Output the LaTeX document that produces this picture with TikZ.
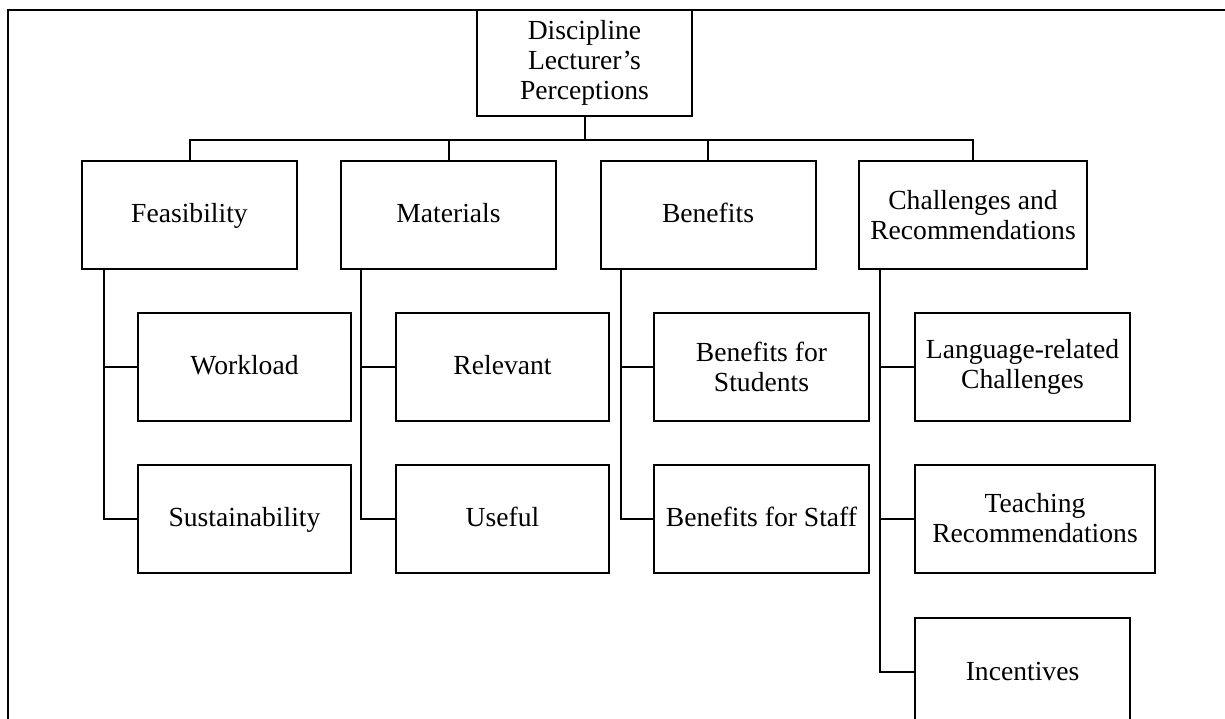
\documentclass[tikz,border=0pt]{standalone}
\usepackage{fontspec}
\setmainfont{Liberation Serif}
\usetikzlibrary{positioning, calc}

\begin{document}
\begin{tikzpicture}[
        x=1pt, y=-1pt,
        theme/.style={draw, line width=2pt, minimum width=215pt, minimum height=108pt,
            align=center, inner sep=4pt, font=\fontsize{27.6}{30}\selectfont},
        single/.style={text height=21pt, text depth=5pt},
        subtheme/.style={theme, anchor=west},
        link/.style={line width=2pt}
    ]
        \useasboundingbox (0,0) rectangle (1225,719);
        \clip (0,0) rectangle (1225,719);

        % Page frame
        \draw[line width=2.4pt] (8,719) -- (8,10) -- (1225,10);

        % Root
        \node[theme, minimum height=106pt] (root) at (584.5, 63) {Discipline\\Lecturer's\\Perceptions};

        % Main themes
        \node[theme, single] (feas) at (189.5, 215) {Feasibility};
        \node[theme, single] (mat) at (448.5, 215) {Materials};
        \node[theme, single] (ben) at (708, 215) {Benefits};
        \node[theme, minimum width=228pt] (chal) at (973, 215) {Challenges and\\Recommendations};

        % Sub-themes
        \node[subtheme, single, minimum width=213pt] (work) at (137, 366.5) {Workload};
        \node[subtheme, single, minimum width=213pt] (sust) at (137, 518.5) {Sustainability};
        \node[subtheme, single, minimum width=213pt] (rel) at (395, 366.5) {Relevant};
        \node[subtheme, single, minimum width=213pt] (use) at (395, 518.5) {Useful};
        \node[subtheme] (stud) at (653, 366.5) {Benefits for\\Students};
        \node[subtheme, single] (staff) at (653, 518.5) {Benefits for Staff};
        \node[subtheme] (lang) at (914, 366.5) {Language-related\\Challenges};
        \node[subtheme, minimum width=240pt] (teach) at (914, 518.5) {Teaching\\Recommendations};
        \node[subtheme, single] (inc) at (914, 672) {Incentives};

        % Root to main themes
        \coordinate (bus) at ($(root.south) + (0,23)$);
        \draw[link] (root.south) -- (bus);
        \draw[link] (feas.north) |- (bus) -| (chal.north);
        \foreach \t in {mat, ben} {
            \draw[link] (\t.north) -- (\t.north |- bus);
        }

        % Main themes to sub-themes
        \draw[link] ([xshift=23pt]feas.south west) |- (work.west);
        \draw[link] ([xshift=23pt]feas.south west) |- (sust.west);
        \draw[link] ([xshift=21pt]mat.south west) |- (rel.west);
        \draw[link] ([xshift=21pt]mat.south west) |- (use.west);
        \draw[link] ([xshift=21pt]ben.south west) |- (stud.west);
        \draw[link] ([xshift=21pt]ben.south west) |- (staff.west);
        \draw[link] ([xshift=22pt]chal.south west) |- (lang.west);
        \draw[link] ([xshift=22pt]chal.south west) |- (teach.west);
        \draw[link] ([xshift=22pt]chal.south west) |- (inc.west);
    \end{tikzpicture}
\end{document}
